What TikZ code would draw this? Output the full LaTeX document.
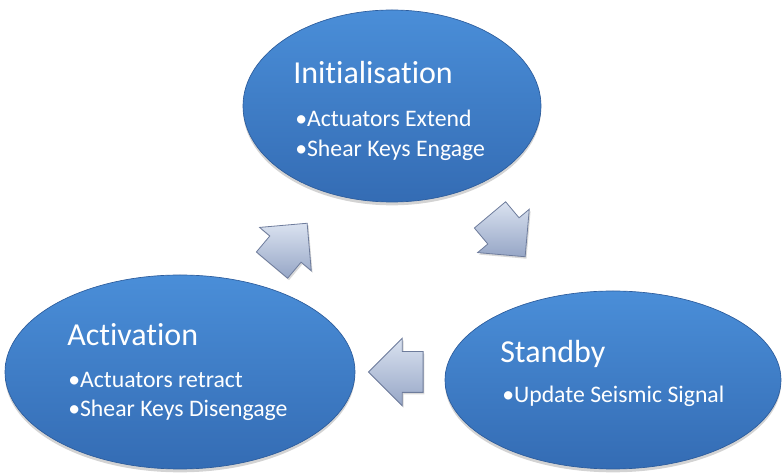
\documentclass[tikz,border=0pt]{standalone}
\usepackage{fontspec}
\setmainfont{Carlito}[Ligatures=NoCommon]
\usepackage{tikz}
\usetikzlibrary{shapes.geometric, shapes.arrows, shadows}

\definecolor{stagetop}{RGB}{74,142,216}
\definecolor{stagebot}{RGB}{52,108,180}
\definecolor{stagerim}{RGB}{44,92,156}
\definecolor{flowtop}{RGB}{218,226,240}
\definecolor{flowbot}{RGB}{150,166,198}
\definecolor{flowrim}{RGB}{110,124,156}

\begin{document}
\begin{tikzpicture}[x=0.75pt, y=-0.75pt]

	\tikzset{
		stage/.style={
				ellipse, draw=stagerim, line width=0.5pt, top color=stagetop, bottom color=stagebot,
				inner sep=0pt, drop shadow={opacity=0.35, shadow xshift=0pt, shadow yshift=-2.5pt}
			},
		title/.style={
				anchor=base west, inner sep=0pt, text=white, font=\fontsize{24}{28}\selectfont
			},
		item/.style={
				anchor=base west, inner sep=0pt, text=white, font=\fontsize{17.8}{21}\selectfont
			},
		flow/.style={
				single arrow, draw=flowrim, line width=0.6pt, top color=flowtop, bottom color=flowbot,
				inner xsep=0pt, inner ysep=15pt, minimum height=41pt, single arrow head extend=10pt,
				single arrow head indent=0pt,
				drop shadow={opacity=0.3, shadow xshift=1pt, shadow yshift=-1.5pt}
			},
	}
	\useasboundingbox (0,0) rectangle (782,473);

	% the three states of the cycle
	\node[stage, minimum width=223.5pt, minimum height=144pt](init) at (392,106){};
	\node[stage, minimum width=252pt, minimum height=133.5pt](stby) at (613,380){};
	\node[stage, minimum width=262.5pt, minimum height=145.5pt](actv) at (180,372){};

	\node[title] (initTitle) at (293,84){Initialisation};
	\node[item] (initA) at (295,127){\textbullet Actuators Extend};
	\node[item] (initB) at (295,157){\textbullet Shear Keys Engage};

	\node[title] (stbyTitle) at (500,363){Standby};
	\node[item] (stbyA) at (502,403){\textbullet Update Seismic Signal};

	\node[title] (actvTitle) at (67,346){Activation};
	\node[item] (actvA) at (68,388){\textbullet Actuators retract};
	\node[item] (actvB) at (68,417){\textbullet Shear Keys Disengage};

	% transitions
	\node[flow, rotate=-50](f1) at (501,228){};
	\node[flow, rotate=180](f2) at (406,372){};
	\node[flow, rotate=50](f3) at (283,252){};

\end{tikzpicture}
\end{document}
